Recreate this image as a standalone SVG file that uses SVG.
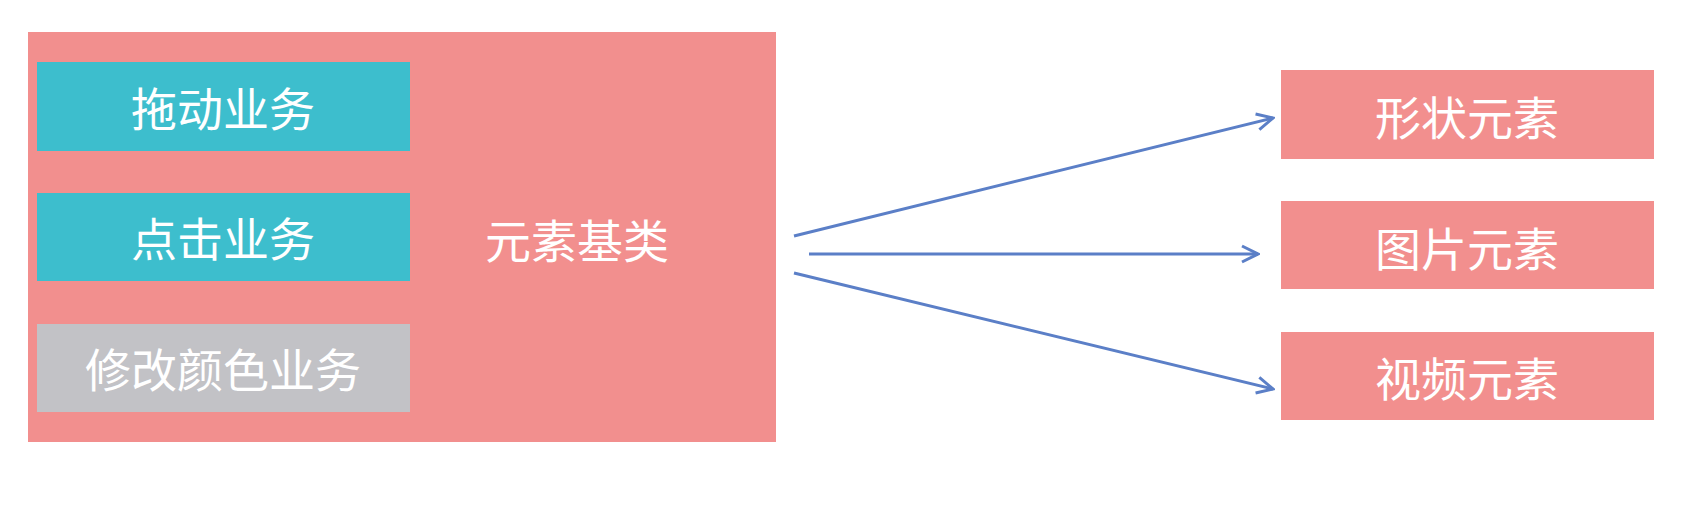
<svg xmlns="http://www.w3.org/2000/svg" width="1689" height="523" viewBox="0 0 1689 523">
<style>
.pink{fill:#f28f8e}
.teal{fill:#3dbecd}
.gray{fill:#c2c2c6}
.t{font-family:"Noto Sans CJK SC","Microsoft YaHei",sans-serif;font-size:46px;fill:#ffffff;text-anchor:middle}
.c{stroke:#5b7fc7;stroke-width:3;fill:none}
</style>
<defs>
<marker id="arr" viewBox="0 0 20 20" refX="18" refY="10" markerWidth="20" markerHeight="20" markerUnits="userSpaceOnUse" orient="auto">
<path d="M2,2 L18,10 L2,18" fill="none" stroke="#5b7fc7" stroke-width="3"/>
</marker>
</defs>
<rect width="1689" height="523" fill="#ffffff"/>
<g id="base">
<rect class="pink" x="28" y="32" width="748" height="410"/>
<text class="t" x="577" y="258">元素基类</text>
</g>
<g id="drag">
<rect class="teal" x="37" y="62" width="373" height="89"/>
<text class="t" x="223" y="126">拖动业务</text>
</g>
<g id="click">
<rect class="teal" x="37" y="193" width="373" height="88"/>
<text class="t" x="223" y="256">点击业务</text>
</g>
<g id="color">
<rect class="gray" x="37" y="324" width="373" height="88"/>
<text class="t" x="223" y="387">修改颜色业务</text>
</g>
<g id="shape">
<rect class="pink" x="1281" y="70" width="373" height="89"/>
<text class="t" x="1467" y="135">形状元素</text>
</g>
<g id="image">
<rect class="pink" x="1281" y="201" width="373" height="88"/>
<text class="t" x="1467" y="266">图片元素</text>
</g>
<g id="video">
<rect class="pink" x="1281" y="332" width="373" height="88"/>
<text class="t" x="1467" y="396">视频元素</text>
</g>
<g id="connectors">
<line class="c" x1="794" y1="236" x2="1273" y2="118" marker-end="url(#arr)"/>
<line class="c" x1="809" y1="254" x2="1258" y2="254" marker-end="url(#arr)"/>
<line class="c" x1="794" y1="273" x2="1273" y2="389" marker-end="url(#arr)"/>
</g>
</svg>
